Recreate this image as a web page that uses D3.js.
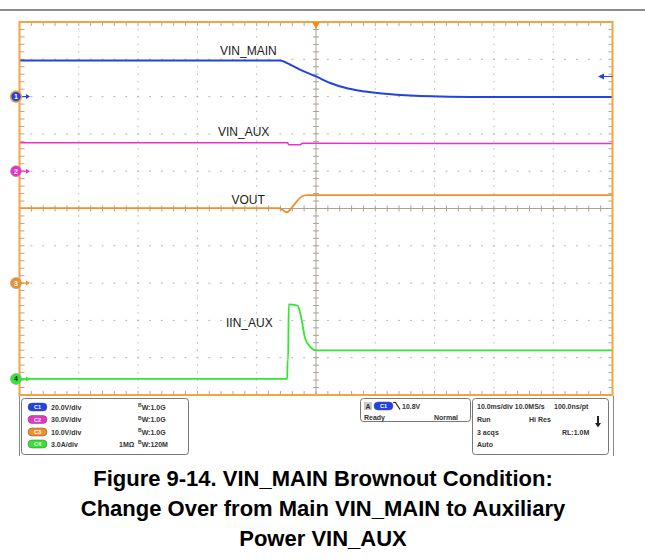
<!DOCTYPE html>
<html>
<head>
<meta charset="utf-8">
<script src="https://cdn.jsdelivr.net/npm/d3@7"></script>
<style>
  body { margin: 0; background: #fff; }
  text { font-family: "Liberation Sans", Arial, sans-serif; }
</style>
</head>
<body>
<div id="chart"></div>
<script>
// scope settings
var chNames = ["C1", "C2", "C3", "C4"];
var chScaleText = ["20.0V/div", "30.0V/div", "10.0V/div", "3.0A/div"];
var chBandwidth = ["1.0G", "1.0G", "1.0G", "120M"];
var chPerDiv = [20, 30, 10, 3];
var chOffsetDiv = [3, 1, -2, -4.57];
var traceLabels = ["VIN_MAIN", "VIN_AUX", "VOUT", "IIN_AUX"];
var colors = ["#2243e4", "#e834c6", "#f0902c", "#33e633"];
var triggerLevel = 10.8;

// traces (time in ms, values in V or A)
var vinMainT = [-50, -6.1, -4.4, -2.7, 0, 2.4, 5.4, 8.3, 11.1, 16.7, 21, 26, 50];
var vinMainV = [19.3, 19.3, 17.2, 14.5, 10.8, 7.3, 4.3, 2.7, 1.6, 0.4, 0, -0.2, -0.2];

var vinAuxT = [-50, -4.8, -4.6, -2.7, -2.3, 50];
var vinAuxV = [22.8, 22.8, 21.2, 21.2, 22.4, 22.3];

var voutT = [-50, -6.2, -4.9, -4.0, -3.2, -2.4, -1.5, 50];
var voutV = [20.1, 20.1, 19.0, 20.4, 22.0, 23.2, 23.6, 23.6];

var iinAuxT = [-50, -4.85, -4.8, -4.7, -4.6, -3.1, -2.4, -1.85, -1.0, 0, 50];
var iinAuxV = [0, 0, 1.5, 1.5, 6.0, 5.9, 4.7, 3.3, 2.6, 2.3, 2.3];

// acquisition info panels
var trigText = ["10.8V", "Ready", "Normal"];
var acqLeft = ["10.0ms/div 10.0MS/s", "Run", "3 acqs", "Auto"];
var acqMid = ["", "Hi Res", "", ""];
var acqRight = ["100.0ns/pt", "", "RL:1.0M", ""];

var titleLines = [
    "Figure 9-14. VIN_MAIN Brownout Condition:",
    "Change Over from Main VIN_MAIN to Auxiliary",
    "Power VIN_AUX"
];

var W = 645, H = 560;
var pL = 19.5, pR = 612.5, pT = 22, pB = 395;

var svg = d3.select("#chart")
    .append("svg")
    .attr("width", W)
    .attr("height", H);

svg.append("rect").attr("width", W).attr("height", H).attr("fill", "#fff");

// top rule
svg.append("line")
    .attr("x1", 0).attr("x2", W).attr("y1", 10).attr("y2", 10)
    .attr("stroke", "#666").attr("stroke-width", 1.5);

// scales
var x = d3.scaleLinear().domain([-50, 50]).range([pL, pR]);
var yDiv = d3.scaleLinear().domain([-5, 5]).range([pB, pT]);
var chY = chPerDiv.map(function (p, i) {
    var off = chOffsetDiv[i];
    return d3.scaleLinear().domain([(-5 - off) * p, (5 - off) * p]).range([pB, pT]);
});

var xMinor = d3.range(-50, 50.01, 2);
var yMinor = d3.range(-5, 5.01, 0.2);

// dotted graticule
var grid = svg.append("g").attr("fill", "#b4b4b4");
d3.range(-4, 5).filter(function (d) { return d !== 0; }).forEach(function (d) {
    grid.selectAll(null)
        .data(xMinor.slice(1, -1))
        .enter()
        .append("rect")
        .attr("x", function (t) { return x(t) - 1; })
        .attr("y", yDiv(d) - 0.5)
        .attr("width", 2).attr("height", 1);
});
d3.range(-40, 41, 10).filter(function (t) { return t !== 0; }).forEach(function (t) {
    grid.selectAll(null)
        .data(yMinor.slice(1, -1))
        .enter()
        .append("rect")
        .attr("x", x(t) - 0.5)
        .attr("y", function (d) { return yDiv(d) - 0.75; })
        .attr("width", 1).attr("height", 1.5);
});

// center axes with minor ticks
var axes = svg.append("g").attr("stroke", "#aaa296").attr("stroke-width", 1);
axes.append("line").attr("x1", pL).attr("x2", pR).attr("y1", yDiv(0)).attr("y2", yDiv(0));
axes.append("line").attr("x1", x(0)).attr("x2", x(0)).attr("y1", pT).attr("y2", pB);
axes.selectAll(null).data(xMinor).enter().append("line")
    .attr("x1", function (t) { return x(t); }).attr("x2", function (t) { return x(t); })
    .attr("y1", yDiv(0) - 3).attr("y2", yDiv(0) + 3);
axes.selectAll(null).data(yMinor).enter().append("line")
    .attr("y1", function (d) { return yDiv(d); }).attr("y2", function (d) { return yDiv(d); })
    .attr("x1", x(0) - 3).attr("x2", x(0) + 3);

// border ticks
var ticks = svg.append("g").attr("stroke", "#a8a8a8").attr("stroke-width", 1);
ticks.selectAll(null).data(xMinor).enter().append("line")
    .attr("x1", function (t) { return x(t); }).attr("x2", function (t) { return x(t); })
    .attr("y1", pT).attr("y2", pT + 4);
ticks.selectAll(null).data(xMinor).enter().append("line")
    .attr("x1", function (t) { return x(t); }).attr("x2", function (t) { return x(t); })
    .attr("y1", pB).attr("y2", pB - 4);
ticks.selectAll(null).data(yMinor).enter().append("line")
    .attr("y1", function (d) { return yDiv(d); }).attr("y2", function (d) { return yDiv(d); })
    .attr("x1", pL).attr("x2", pL + 5);
ticks.selectAll(null).data(yMinor).enter().append("line")
    .attr("y1", function (d) { return yDiv(d); }).attr("y2", function (d) { return yDiv(d); })
    .attr("x1", pR).attr("x2", pR - 4);

// traces
svg.append("clipPath").attr("id", "plotclip")
    .append("rect").attr("x", pL).attr("y", pT).attr("width", pR - pL).attr("height", pB - pT);

var traces = [
    { t: vinMainT, v: vinMainV, w: 2 },
    { t: vinAuxT, v: vinAuxV, w: 1.5 },
    { t: voutT, v: voutV, w: 1.8 },
    { t: iinAuxT, v: iinAuxV, w: 1.8 }
];
var plot = svg.append("g").attr("clip-path", "url(#plotclip)");
traces.forEach(function (tr, i) {
    var line = d3.line()
        .x(function (d) { return x(d[0]); })
        .y(function (d) { return chY[i](d[1]); })
        .curve(d3.curveMonotoneX);
    plot.append("path")
        .datum(d3.zip(tr.t, tr.v))
        .attr("d", line)
        .attr("fill", "none")
        .attr("stroke", colors[i])
        .attr("stroke-width", tr.w);
});

// trace labels
var labelPos = [[220, 55], [218, 135.5], [231.5, 204], [226, 326.5]];
svg.selectAll(null)
    .data(traceLabels)
    .enter()
    .append("text")
    .attr("x", function (d, i) { return labelPos[i][0]; })
    .attr("y", function (d, i) { return labelPos[i][1]; })
    .style("font-size", "12px")
    .style("fill", "#1a1a1a")
    .text(function (d) { return d; });

// frame
svg.append("rect")
    .attr("x", pL).attr("y", pT)
    .attr("width", pR - pL).attr("height", pB - pT)
    .attr("fill", "none").attr("stroke", "#f2a440").attr("stroke-width", 2);

// trigger position marker
svg.append("path")
    .attr("d", "M" + (x(0) - 4) + "," + pT + "L" + (x(0) + 4) + "," + pT + "L" + x(0) + "," + (pT + 7) + "Z")
    .attr("fill", "#f08a1e");

// trigger level arrow
var ty = chY[0](triggerLevel);
svg.append("line").attr("x1", 603).attr("x2", pR).attr("y1", ty).attr("y2", ty)
    .attr("stroke", colors[0]).attr("stroke-width", 1);
svg.append("path").attr("d", "M598," + ty + "L604," + (ty - 3) + "L604," + (ty + 3) + "Z").attr("fill", colors[0]);

// channel ground markers
chNames.forEach(function (n, i) {
    var cy = chY[i](0);
    var g = svg.append("g");
    g.append("line").attr("x1", 20).attr("x2", 27).attr("y1", cy).attr("y2", cy)
        .attr("stroke", colors[i]).attr("stroke-width", 1.2);
    g.append("path").attr("d", "M26," + (cy - 2.5) + "L30," + cy + "L26," + (cy + 2.5) + "Z").attr("fill", colors[i]);
    g.append("circle").attr("cx", 16).attr("cy", cy).attr("r", 5.5)
        .attr("fill", colors[i])
        .attr("stroke", i === 0 ? "#f2a440" : "#999")
        .attr("stroke-width", i === 0 ? 1.6 : 0.6);
    g.append("text").attr("x", 16).attr("y", cy + 2.5)
        .attr("text-anchor", "middle")
        .style("font-size", "7px").style("font-weight", "bold")
        .style("fill", i === 3 ? "#123" : "#fff")
        .text(i + 1);
});

// bottom info panel
var panel = svg.append("g");
panel.append("line").attr("x1", 19.5).attr("x2", 19.5).attr("y1", 396).attr("y2", 456).attr("stroke", "#888");
panel.append("line").attr("x1", 613.5).attr("x2", 613.5).attr("y1", 396).attr("y2", 456).attr("stroke", "#888");

function box(bx, by, bw, bh) {
    panel.append("rect").attr("x", bx).attr("y", by).attr("width", bw).attr("height", bh)
        .attr("rx", 3).attr("fill", "#fff").attr("stroke", "#777").attr("stroke-width", 1);
}
function pill(px, py, i) {
    panel.append("rect").attr("x", px).attr("y", py - 4).attr("width", 19).attr("height", 8)
        .attr("rx", 4).attr("fill", colors[i]).attr("stroke", "#555").attr("stroke-width", 0.5);
    panel.append("text").attr("x", px + 9.5).attr("y", py + 2)
        .attr("text-anchor", "middle").style("font-size", "5.5px").style("font-weight", "bold")
        .style("fill", "#fff").text(chNames[i]);
}
function small(tx, ty2, s, anchor) {
    return panel.append("text").attr("x", tx).attr("y", ty2)
        .attr("text-anchor", anchor || "start")
        .style("font-size", "7px").style("font-weight", "bold").style("fill", "#333")
        .text(s);
}

box(21.5, 398.5, 167, 56);
var rowY = [407, 419.5, 432, 444];
chNames.forEach(function (n, i) {
    pill(28, rowY[i], i);
    small(51, rowY[i] + 2.5, chScaleText[i]);
    var bw = panel.append("text").attr("x", 138).attr("y", rowY[i] + 2.5)
        .style("font-weight", "bold").style("fill", "#333");
    bw.append("tspan").style("font-size", "5px").attr("dy", -2.5).text("B");
    bw.append("tspan").style("font-size", "7px").attr("dy", 2.5).text("W:" + chBandwidth[i]);
});
small(119, rowY[3] + 2.5, "1M\u03a9");

// trigger box
box(360.5, 398.5, 110, 23);
panel.append("rect").attr("x", 364).attr("y", 402).attr("width", 8).attr("height", 8).attr("fill", "#ccc");
small(368, 408.5, "A", "middle");
pill(374, 406, 0);
panel.append("path").attr("d", "M393,402.5L395.5,402.5L400,409.5").attr("fill", "none").attr("stroke", "#222").attr("stroke-width", 1.2);
small(402, 408.5, trigText[0]);
small(364, 420, trigText[1]);
small(458, 420, trigText[2], "end");

// acquisition box
box(472.5, 398.5, 136, 56);
var acqY = [409, 422, 434.5, 447];
acqLeft.forEach(function (s, i) { small(477, acqY[i], s); });
acqMid.forEach(function (s, i) { if (s) small(529, acqY[i], s); });
acqRight.forEach(function (s, i) { if (s) small(i === 0 ? 554 : 562, acqY[i], s); });
panel.append("line").attr("x1", 598).attr("x2", 598).attr("y1", 416).attr("y2", 424).attr("stroke", "#222").attr("stroke-width", 2);
panel.append("path").attr("d", "M595,423L601,423L598,427.5Z").attr("fill", "#222");

// figure caption
svg.selectAll(null)
    .data(titleLines)
    .enter()
    .append("text")
    .attr("x", 323)
    .attr("y", function (d, i) { return 486 + i * 30; })
    .attr("text-anchor", "middle")
    .style("font-size", "22px")
    .style("font-weight", "bold")
    .style("fill", "#000")
    .text(function (d) { return d; });
</script>
</body>
</html>
